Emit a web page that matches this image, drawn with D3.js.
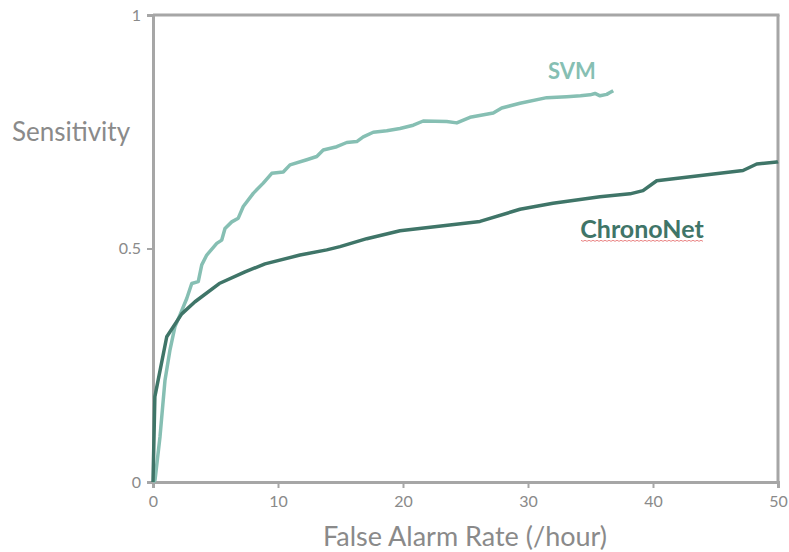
<!DOCTYPE html>
<html><head><meta charset="utf-8">
<script src="https://cdn.jsdelivr.net/npm/d3@7"></script>
<style>body{margin:0;background:#fff}svg{display:block}</style>
</head><body>
<svg id="c" width="789" height="552"></svg>
<script>
const xTicks = [0, 10, 20, 30, 40, 50];
const yTicks = [0, 0.5, 1];
const yTickLabels = ["0", "0.5", "1"];
const seriesNames = ["SVM", "ChronoNet"];
const svmX = [0,0.16,0.56,0.96,1.36,1.76,2.16,2.7,3.1,3.62,3.9,4.3,5.1,5.5,5.76,6.3,6.82,7.22,8.02,8.82,9.5,10.42,10.96,12.3,13.1,13.62,14.7,15.5,16.3,16.82,17.62,18.7,19.76,20.82,21.62,23.5,24.3,25.36,27.22,27.9,29.36,31.5,33.1,34.2,34.96,35.36,35.76,36.3,36.56,36.82];
const svmY = [0,0.004,0.097,0.218,0.283,0.333,0.358,0.393,0.425,0.429,0.465,0.486,0.511,0.518,0.543,0.557,0.565,0.590,0.618,0.640,0.661,0.664,0.679,0.690,0.697,0.711,0.718,0.727,0.729,0.739,0.749,0.752,0.757,0.764,0.773,0.772,0.769,0.781,0.790,0.801,0.811,0.823,0.825,0.827,0.829,0.832,0.827,0.830,0.834,0.838];
const chronoX = [0,0.15,1.1,2.3,3.36,5.3,7.36,8.96,11.76,13.9,14.96,17.1,19.76,26.16,29.36,32.0,35.76,38.16,39.2,40.3,47.2,48.3,49.9,50];
const chronoY = [0,0.183,0.311,0.360,0.386,0.425,0.450,0.467,0.486,0.497,0.504,0.521,0.538,0.558,0.584,0.597,0.611,0.617,0.624,0.645,0.667,0.681,0.685,0.686];

const svg = d3.select("#c");
const L = 153, R = 778, T = 15, B = 482;
const x = d3.scaleLinear().domain([0, 50]).range([L, R]);
const y = d3.scaleLinear().domain([0, 1]).range([B, T]);
const axisColor = "#a6a6a6", textColor = "#8a8a8a";
const font = "'Source Sans Pro', Lato, 'Noto Sans', sans-serif";

// frame top & right
svg.append("line").attr("x1", L).attr("x2", R + 1.5).attr("y1", T).attr("y2", T)
  .attr("stroke", axisColor).attr("stroke-width", 3);
svg.append("line").attr("x1", R).attr("x2", R).attr("y1", T).attr("y2", B)
  .attr("stroke", axisColor).attr("stroke-width", 3);

const xAxis = svg.append("g").attr("transform", `translate(0,${B})`)
  .call(d3.axisBottom(x).tickValues(xTicks).tickSize(6).tickPadding(8).tickFormat(d3.format("d")));
const yAxis = svg.append("g").attr("transform", `translate(${L},0)`)
  .call(d3.axisLeft(y).tickValues(yTicks).tickSize(6).tickPadding(6).tickFormat((d, i) => yTickLabels[i]));
[xAxis, yAxis].forEach(g => {
  g.select(".domain").attr("stroke", axisColor).attr("stroke-width", 3);
  g.selectAll(".tick line").attr("stroke", axisColor).attr("stroke-width", 2);
  g.selectAll(".tick text").attr("fill", textColor).attr("font-family", font).attr("font-size", 16);
});

const line = d3.line().x(d => x(d[0])).y(d => y(d[1]));
const svmData = svmX.map((v, i) => [v, svmY[i]]);
const chronoData = chronoX.map((v, i) => [v, chronoY[i]]);
svg.append("path").datum(svmData).attr("d", line).attr("fill", "none")
  .attr("stroke", "#86bfb3").attr("stroke-width", 3.5).attr("stroke-linejoin", "round");
svg.append("path").datum(chronoData).attr("d", line).attr("fill", "none")
  .attr("stroke", "#3f7568").attr("stroke-width", 3.5).attr("stroke-linejoin", "round");

svg.append("text").text(seriesNames[0]).attr("x", 572).attr("y", 79)
  .attr("text-anchor", "middle").attr("font-family", font).attr("font-weight", "bold")
  .attr("font-size", 22).attr("fill", "#86bfb3");
svg.append("text").text(seriesNames[1]).attr("x", 642).attr("y", 238)
  .attr("text-anchor", "middle").attr("font-family", font).attr("font-weight", "bold")
  .attr("font-size", 25).attr("fill", "#3f7568");
// spell-check squiggle
const sq = d3.range(0, 62).map(i => [581 + i * 2, 240.5 + (i % 2 ? 0.8 : -0.2)]);
svg.append("path").attr("d", d3.line()(sq)).attr("fill", "none").attr("stroke", "#e05050").attr("stroke-width", 0.7);

svg.append("text").text("Sensitivity").attr("x", 71).attr("y", 141)
  .attr("text-anchor", "middle").attr("font-family", font).attr("font-size", 26).attr("fill", textColor);
svg.append("text").text("False Alarm Rate (/hour)").attr("x", 465).attr("y", 546)
  .attr("text-anchor", "middle").attr("font-family", font).attr("font-size", 27).attr("fill", textColor);
</script>
</body></html>
